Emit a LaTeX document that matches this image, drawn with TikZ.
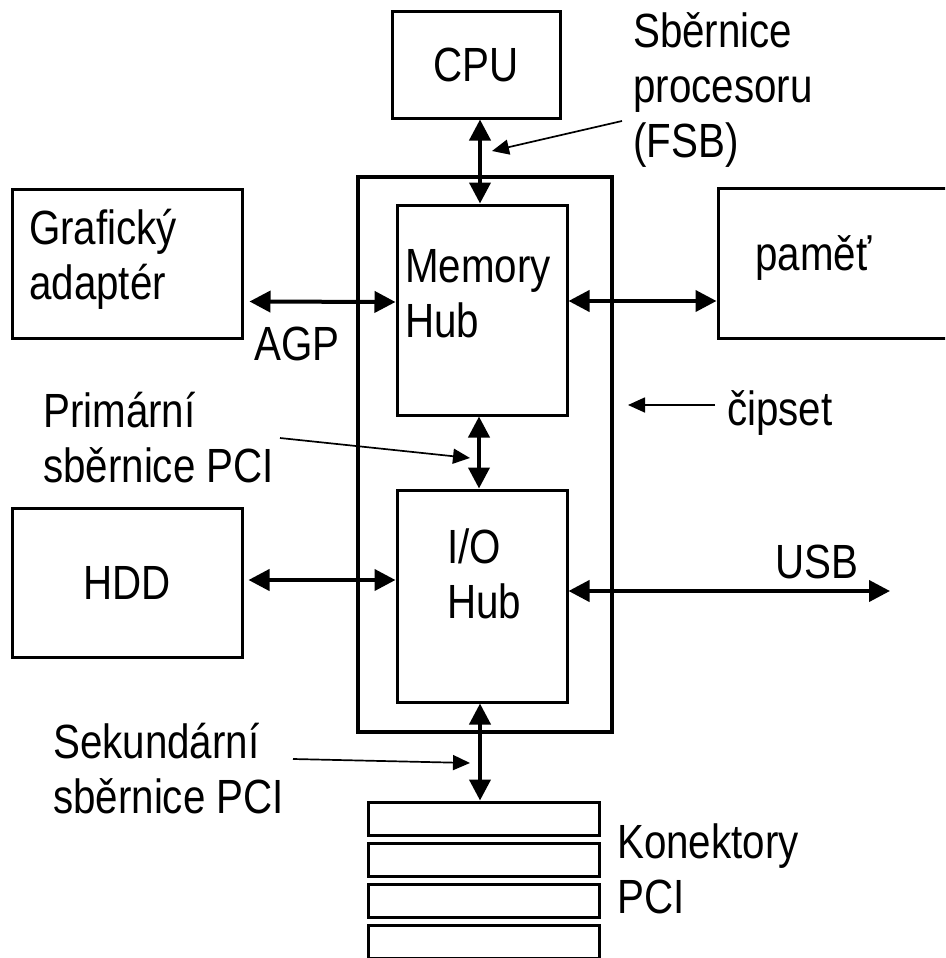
\documentclass[tikz,border=0pt]{standalone}
\usepackage{fontspec}
\setmainfont{Liberation Sans}[FakeStretch=0.84]
\usetikzlibrary{arrows.meta,calc}

\begin{document}
\begin{tikzpicture}[x=1pt,y=-1pt,
  font=\fontsize{48pt}{55pt}\selectfont,
  box/.style={draw,line width=3pt,inner sep=0pt},
  txt/.style={anchor=base west,align=left,inner sep=0pt},
  bus/.style={line width=4pt,{Triangle[length=21pt,width=21pt]}-{Triangle[length=21pt,width=21pt]}},
  pointer/.style={line width=1.7pt,-{Triangle[length=17pt,width=15pt]}}]
\useasboundingbox (0,0) rectangle (945,958);
\clip (0,0) rectangle (945,958);

% boxes
\draw (476,65) node[box,minimum width=168,minimum height=106] (cpu) {CPU};
\draw (485,454.5) node[box,line width=4.5pt,minimum width=254,minimum height=555] (chip) {};
\draw (482,310) node[box,minimum width=170,minimum height=210] (mh) {};
\draw (482,596) node[box,minimum width=170,minimum height=212] (ioh) {};
\draw (127,263.5) node[box,minimum width=230,minimum height=149] (gfx) {};
\draw (868,263) node[box,minimum width=300,minimum height=150] (mem) {};
\draw (127,582.5) node[box,minimum width=230,minimum height=149] (hdd) {HDD};
\foreach \i in {0,...,3}
  \draw (483.5,818.5+41.3*\i) node[box,minimum width=231,minimum height=33] (slot\i) {};

% texts (base = last line)
\draw (633,157) node[txt] (fsbtxt) {Sběrnice\\procesoru\\(FSB)};
\draw (29,299) node[txt] (gfxtxt) {Grafický\\adaptér};
\draw (405,337) node[txt] (mhtxt) {Memory\\Hub};
\draw (447,618) node[txt] (iohtxt) {I/O\\Hub};
\draw (755,270) node[txt] (memtxt) {paměť};
\draw (254,360) node[txt] (agptxt) {AGP};
\draw (727,425) node[txt] (chiptxt) {čipset};
\draw (43,482) node[txt] (primtxt) {Primární\\sběrnice PCI};
\draw (775,578) node[txt] (usbtxt) {USB};
\draw (53,813) node[txt] (sektxt) {Sekundární\\sběrnice PCI};
\draw (617,913) node[txt] (slottxt) {Konektory\\PCI};

% buses
\path ([xshift=4pt]cpu.south) edge[bus] ([xshift=-2pt]mh.north);
\path ([xshift=-3pt]mh.south) edge[bus] ([xshift=-3pt]ioh.north);
\path ([xshift=-2pt]ioh.south) edge[bus] ([xshift=-3.5pt]slot0.north);
\path ([shift={(6pt,-38pt)}]gfx.east) edge[bus] ([yshift=8pt]mh.west);
\path ([yshift=9pt]mh.east) edge[bus] ([yshift=-38pt]mem.west);
\path ([shift={(5pt,2.5pt)}]hdd.east) edge[bus] ([yshift=16pt]ioh.west);
\coordinate (usbend) at (890,591);
\path ([yshift=5pt]ioh.east) edge[bus] (usbend);

% pointers
\coordinate (fsbfrom) at (622,121);
\coordinate (fsbto) at (492,151);
\coordinate (chipfrom) at (715,405);
\coordinate (chipto) at (628,405);
\coordinate (primfrom) at (280,438);
\coordinate (primto) at (470,458);
\coordinate (sekfrom) at (293,759);
\coordinate (sekto) at (470,763);
\path (fsbfrom) edge[pointer] (fsbto);
\path (chipfrom) edge[pointer] (chipto);
\path (primfrom) edge[pointer] (primto);
\path (sekfrom) edge[pointer] (sekto);
\end{tikzpicture}
\end{document}
